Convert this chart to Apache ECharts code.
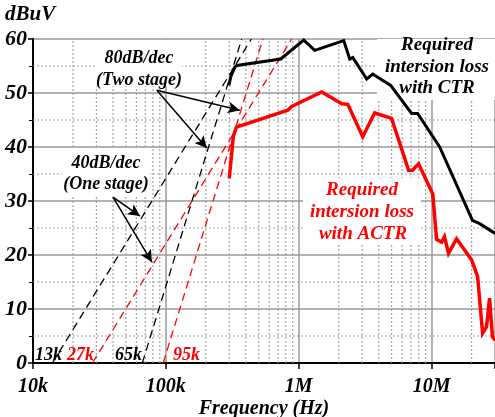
<!DOCTYPE html>
<html>
<head>
<meta charset="utf-8">
<script src="https://cdn.jsdelivr.net/npm/echarts@6/dist/echarts.min.js"></script>
<style>html,body{margin:0;padding:0;background:#fff;}#c{width:495px;height:417px;}</style>
</head>
<body>
<div id="c"></div>
<script>
// Required insertion loss with CTR (black)
const ctrFreq = [298e3, 308e3, 330e3, 342e3, 732e3, 1.09e6, 1.32e6, 2.18e6, 2.42e6, 2.55e6, 3.25e6, 3.6e6, 4.92e6, 7.07e6, 7.85e6, 11.5e6, 20.3e6, 23e6, 30e6];
const ctrDb   = [51.4, 53.0, 54.8, 55.1, 56.3, 59.8, 57.9, 59.7, 56.3, 56.6, 52.6, 53.5, 51.4, 46.2, 46.2, 40.0, 26.4, 25.8, 24.0];
// Required insertion loss with ACTR (red)
const actrFreq = [300e3, 322e3, 340e3, 827e3, 885e3, 1.49e6, 2.11e6, 2.34e6, 3.03e6, 3.73e6, 5.0e6, 6.71e6, 7.19e6, 7.98e6, 10.2e6, 10.9e6, 11.9e6, 12.5e6, 13.4e6, 15.4e6, 20.0e6, 22.2e6, 24.2e6, 25.9e6, 27.3e6, 28.7e6, 30e6];
const actrDb   = [34.2, 42.0, 43.7, 46.8, 47.5, 50.2, 48.0, 47.9, 41.9, 46.3, 45.3, 35.7, 35.7, 36.9, 31.3, 22.9, 22.4, 23.4, 20.3, 23.0, 19.1, 16.0, 5.5, 6.7, 12.0, 4.9, 4.2];
// Asymptote lines (dashed)
const slope40BlackFreq = [14000, 440000];
const slope80BlackFreq = [66500, 372000];
const slope40RedFreq   = [28000, 885000];
const slope80RedFreq   = [95500, 537000];
const slopeDb = [0, 60];
// Axis tick labels
const xTickLabels = {10000: '10k', 100000: '100k', 1000000: '1M', 10000000: '10M'};
const minorFreqs = [2e4,3e4,4e4,5e4,6e4,7e4,8e4,9e4,2e5,3e5,4e5,5e5,6e5,7e5,8e5,9e5,2e6,3e6,4e6,5e6,6e6,7e6,8e6,9e6,2e7];
const minorDb = [5, 15, 25, 35, 45, 55];
// Annotation arrows (data coords)
const arrows = [
  [[85500, 50.5], [360000, 46.8]],
  [[85500, 50.5], [203000, 39.8]],
  [[40000, 30.7], [63800, 27.2]],
  [[40000, 30.7], [78500, 18.7]]
];

const zip = (a, b) => a.map((v, i) => [v, b[i]]);
const FONT = 'Liberation Serif';
const txt = (x, y, text, color, size, align) => ({
  type: 'text', x: x, y: y, z: 20,
  style: { text: text, fill: color || '#000', font: 'italic bold ' + (size || 18) + 'px "' + FONT + '"',
    textAlign: align || 'center', textVerticalAlign: 'middle' }
});
const box = (x, y, w, h) => ({ type: 'rect', z: 2, shape: {x: x, y: y, width: w, height: h}, style: {fill: '#fff'} });

// minor grid as broken polylines through the axes
const minorV = [];
minorFreqs.forEach(f => { minorV.push([f, 0], [f, 60], [f, '-']); });
const minorH = [];
minorDb.forEach(d => { minorH.push([1e4, d], [3e7, d], [3e7, '-']); });

const chart = echarts.init(document.getElementById('c'), null, {renderer: 'canvas'});
const dashed = (f, color) => ({
  type: 'line', data: zip(f, slopeDb), symbol: 'none', z: 3, silent: true,
  lineStyle: {color: color, width: 1.3, type: [8, 5]}
});
const gridSeries = (data) => ({
  type: 'line', data: data, symbol: 'none', z: 1, silent: true, connectNulls: false,
  lineStyle: {color: '#a4a4a4', width: 1.2, type: [2, 2]}
});
chart.setOption({
  animation: false,
  backgroundColor: '#fff',
  grid: {left: 33, right: 0, top: 39, bottom: 54, containLabel: false, outerBoundsMode: 'none'},
  xAxis: {
    type: 'log', logBase: 10, min: 1e4, max: 3e7,
    name: 'Frequency (Hz)', nameLocation: 'middle', nameGap: 36, nameMoveOverlap: false,
    nameTextStyle: {fontFamily: FONT, fontStyle: 'italic', fontWeight: 'bold', fontSize: 20, color: '#000'},
    axisLine: {lineStyle: {color: '#000', width: 2}},
    axisTick: {show: true, length: 6, lineStyle: {color: '#000', width: 1.5}},
    axisLabel: {
      fontFamily: FONT, fontStyle: 'italic', fontWeight: 'bold', fontSize: 20, color: '#000', margin: 14,
      formatter: v => xTickLabels[Math.round(v)] || ''
    },
    splitLine: {show: true, lineStyle: {color: '#9a9a9a', width: 1.5}}
  },
  yAxis: {
    type: 'value', min: 0, max: 60, interval: 10,
    axisLine: {show: true, lineStyle: {color: '#000', width: 2}},
    axisTick: {show: true, length: 5, lineStyle: {color: '#000', width: 1.5}},
    minorTick: {show: true, splitNumber: 2, length: 4, lineStyle: {color: '#000', width: 1}},
    axisLabel: {fontFamily: FONT, fontStyle: 'italic', fontWeight: 'bold', fontSize: 22, color: '#000', margin: 6},
    splitLine: {show: true, lineStyle: {color: '#9a9a9a', width: 1.5}}
  },
  series: [
    gridSeries(minorV),
    gridSeries(minorH),
    dashed(slope40BlackFreq, '#000'),
    dashed(slope80BlackFreq, '#000'),
    dashed(slope40RedFreq, '#ff0000'),
    dashed(slope80RedFreq, '#ff0000'),
    {
      type: 'line', data: zip(actrFreq, actrDb), symbol: 'none', z: 5,
      lineStyle: {color: '#ff0000', width: 3.5, join: 'miter'}
    },
    {
      type: 'line', data: zip(ctrFreq, ctrDb), symbol: 'none', z: 6,
      lineStyle: {color: '#000', width: 3, join: 'miter'}
    },
    {
      type: 'line', data: [[1e4, null]], z: 7, silent: true, symbol: 'none',
      markLine: {
        silent: true, symbol: ['none', 'arrow'], symbolSize: [9, 12], label: {show: false}, animation: false,
        lineStyle: {color: '#000', width: 1.5, type: 'solid'},
        data: arrows.map(a => [{coord: a[0]}, {coord: a[1]}])
      }
    }
  ],
  graphic: [
    box(377, 39, 118, 61),
    box(303, 178, 118, 66),
    box(95, 40, 87, 46),
    box(62, 148, 88, 48),
    txt(5, 15, 'dBuV', '#000', 21, 'left'),
    txt(139, 58, '80dB/dec'),
    txt(139, 80, '(Two stage)'),
    txt(106, 163, '40dB/dec'),
    txt(106, 184, '(One stage)'),
    txt(437, 45, 'Required', '#000', 19),
    txt(437, 67, 'intersion loss', '#000', 19),
    txt(437, 88, 'with CTR', '#000', 19),
    txt(362, 190, 'Required', '#ff0000', 19),
    txt(362, 212, 'intersion loss', '#ff0000', 19),
    txt(363, 234, 'with ACTR', '#ff0000', 19),
    txt(35, 355, '13k', '#000', 18, 'left'),
    txt(67, 355, '27k', '#ff0000', 18, 'left'),
    txt(115, 355, '65k', '#000', 18, 'left'),
    txt(173, 355, '95k', '#ff0000', 18, 'left')
  ]
});
</script>
</body>
</html>
